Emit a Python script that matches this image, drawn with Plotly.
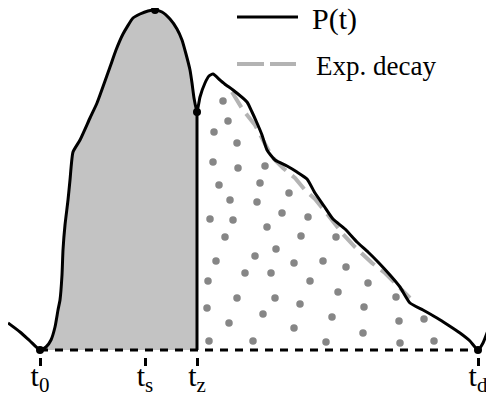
import plotly.graph_objects as go

# ---- data (t in px-like units, P in arbitrary units) ----
curve_t = [8, 20, 30, 40, 46, 51, 55, 58, 60, 62, 63, 65, 68, 70, 73, 80, 90, 97, 110, 116,
           123, 133, 140, 148, 155, 162, 170, 177, 182, 186, 190, 192, 194, 197,
           200, 205, 209, 213, 220, 226, 233, 247, 252, 257, 262, 267, 275, 287, 297, 307,
           315, 324, 333, 345, 357, 368, 378, 390, 400, 410, 423, 437, 448, 460, 470,
           478, 483, 487, 490, 494]
curve_P = [27, 18, 9, 0, 3, 10, 23, 40, 50, 75, 100, 125, 150, 170, 198, 210, 232, 247, 283, 300,
           316, 332, 336, 339, 340, 338, 331, 321, 310, 296, 280, 267, 252, 238,
           253, 267, 274, 276, 270, 265, 260, 248, 238, 227, 215, 200, 190, 184, 178, 171,
           157, 144, 131, 121, 108, 98, 88, 75, 63, 47, 40, 32, 25, 17, 9,
           0, 7, 17, 25, 36]

exp_t = [232, 243, 255, 265, 272, 283, 295, 305, 315, 328, 342, 355, 372, 385, 397, 410]
exp_P = [258, 240, 225, 207, 193, 182, 172, 160, 151, 135, 117, 103, 87, 77, 65, 52]

dot_t = [223, 228, 214, 237, 213, 238, 265, 219, 260, 230, 257, 289, 210, 233, 282, 308, 267,
         225, 301, 336, 276, 216, 255, 294, 323, 346, 208, 245, 271, 310, 368, 338, 237, 275,
         300, 364, 396, 207, 263, 332, 229, 294, 363, 209, 253, 326, 399, 424, 400, 434]
dot_P = [249, 229, 218, 207, 188, 182, 184, 165, 167, 150, 148, 157, 131, 130, 137, 133, 123,
         113, 114, 113, 101, 89, 94, 87, 89, 83, 69, 77, 77, 69, 67, 58, 52, 52,
         46, 43, 53, 42, 36, 33, 27, 22, 17, 9, 9, 8, 29, 31, 7, 9]

key_t = [40, 155, 197, 478]          # t0, peak, tz, td
key_P = [0, 340, 238, 0]

tick_vals = [40, 145, 197, 478]
tick_text = ["t<sub>0</sub>", "t<sub>s</sub>", "t<sub>z</sub>", "t<sub>d</sub>"]

legend_names = ["P(t)", "Exp. decay"]

t0, tz, td = 40, 197, 478
i0 = curve_t.index(t0)
iz = curve_t.index(tz)

FONT = "Liberation Serif"
fig = go.Figure()

# grey filled area t0..tz
fig.add_trace(go.Scatter(
    x=curve_t[i0:iz + 1] + [tz], y=curve_P[i0:iz + 1] + [0],
    fill="toself", fillcolor="#c3c3c3", mode="lines",
    line=dict(width=0, color="#c3c3c3", shape="spline", smoothing=0.5),
    showlegend=False, hoverinfo="skip"))

# dotted area tz..td
fig.add_trace(go.Scatter(
    x=dot_t, y=dot_P, mode="markers",
    marker=dict(size=7.5, color="#868686"), showlegend=False, hoverinfo="skip"))

# baseline t0..td (dashed)
fig.add_trace(go.Scatter(
    x=[t0, td], y=[0, 0], mode="lines",
    line=dict(color="black", width=3, dash="8px,7px"), showlegend=False, hoverinfo="skip"))

# exponential decay
fig.add_trace(go.Scatter(
    x=exp_t, y=exp_P, mode="lines", name=legend_names[1],
    line=dict(color="#b3b3b3", width=4, dash="18px,8px"), showlegend=False))

# vertical line at tz
fig.add_trace(go.Scatter(
    x=[tz, tz], y=[curve_P[iz], 0], mode="lines",
    line=dict(color="black", width=3), showlegend=False, hoverinfo="skip"))

# P(t)
fig.add_trace(go.Scatter(
    x=curve_t, y=curve_P, mode="lines", name=legend_names[0],
    line=dict(color="black", width=3, shape="spline", smoothing=0.5), showlegend=False))

fig.add_trace(go.Scatter(
    x=key_t, y=key_P, mode="markers",
    marker=dict(size=8, color="black"), showlegend=False, hoverinfo="skip", cliponaxis=False))

# legend (drawn as layout shapes + text)
fig.add_shape(type="line", xref="x", yref="y", x0=237, x1=298, y0=333, y1=333,
              line=dict(color="black", width=3))
fig.add_shape(type="line", xref="x", yref="y", x0=237, x1=296, y0=286, y1=286,
              line=dict(color="#b3b3b3", width=4, dash="27px,6px"))
fig.add_annotation(x=311, y=331, xref="x", yref="y", text=legend_names[0], showarrow=False,
                   xanchor="left", yanchor="middle", borderpad=0,
                   font=dict(family=FONT, size=30, color="black"))
fig.add_annotation(x=315, y=284, xref="x", yref="y", text=legend_names[1], showarrow=False,
                   xanchor="left", yanchor="middle", borderpad=0,
                   font=dict(family=FONT, size=27, color="black"))

# page has an 8px body margin: figure spans page x 8..494, y 8..405
fig.update_layout(
    width=486, height=397,
    margin=dict(l=0, r=0, t=0, b=48, autoexpand=False),
    paper_bgcolor="white", plot_bgcolor="white",
    showlegend=False,
)
fig.update_xaxes(range=[8, 494], showgrid=False, zeroline=False, showline=False,
                 tickmode="array", tickvals=tick_vals, ticktext=tick_text,
                 ticks="outside", ticklen=8, tickwidth=3, tickcolor="black",
                 ticklabelstandoff=-16,
                 tickfont=dict(family=FONT, size=30, color="black"), automargin=False)
fig.update_yaxes(range=[-7, 342], showgrid=False, zeroline=False, showline=False,
                 showticklabels=False, ticks="", automargin=False)

fig.write_html("out.html")
